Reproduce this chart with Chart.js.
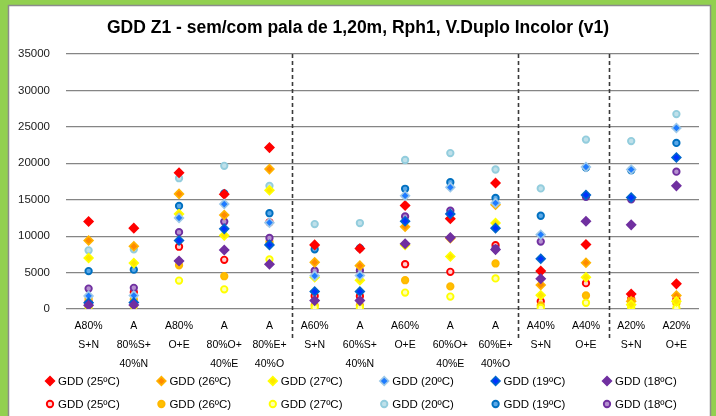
<!DOCTYPE html>
<html>
<head>
<meta charset="utf-8">
<script src="https://cdn.jsdelivr.net/npm/chart.js@4/dist/chart.umd.min.js"></script>
<style>
html,body{margin:0;padding:0;background:#ffffff;}
#wrap{width:716px;height:416px;}
canvas{display:block;}
</style>
</head>
<body>
<div id="wrap"><canvas id="c" width="716" height="416"></canvas></div>
<script>
// ---------- DATA ----------
const chartTitle = 'GDD Z1 - sem/com pala de 1,20m, Rph1, V.Duplo Incolor (v1)';

const categories = [
  ['A80%', 'S+N'],
  ['A', '80%S+', '40%N'],
  ['A80%', 'O+E'],
  ['A', '80%O+', '40%E'],
  ['A', '80%E+', '40%O'],
  ['A60%', 'S+N'],
  ['A', '60%S+', '40%N'],
  ['A60%', 'O+E'],
  ['A', '60%O+', '40%E'],
  ['A', '60%E+', '40%O'],
  ['A40%', 'S+N'],
  ['A40%', 'O+E'],
  ['A20%', 'S+N'],
  ['A20%', 'O+E']
];

const seriesNames = ['GDD (25ºC)', 'GDD (26ºC)', 'GDD (27ºC)', 'GDD (20ºC)', 'GDD (19ºC)', 'GDD (18ºC)'];

// diamond markers
const diamond25 = [12000, 11100, 18700, 15750, 22150, 8800, 8300, 14200, 12400, 17300, 5200, 8850, 2050, 3450];
const diamond26 = [9400, 8600, 15800, 12900, 19200, 6400, 5950, 11300, 9700, 14300, 3300, 6350, 1050, 1850];
const diamond27 = [7000, 6300, 13050, 10100, 16300, 4350, 3950, 8800, 7200, 11800, 1900, 4350, 600, 1050];
const diamond20 = [1800, 1850, 12500, 14400, 11850, 4550, 4600, 15550, 16700, 14550, 10200, 19500, 19150, 24850];
const diamond19 = [850, 900, 9400, 11000, 8800, 2400, 2400, 12050, 13050, 11100, 6900, 15650, 15300, 20800];
const diamond18 = [500, 550, 6600, 8100, 6150, 1150, 1150, 8950, 9800, 8150, 4150, 12050, 11550, 16900];

// circle markers
const circle25 = [1000, 2300, 8550, 6750, 11900, 1800, 1750, 6150, 5100, 8750, 1050, 3550, 1400, 1350];
const circle26 = [1400, 1300, 6000, 4500, 9200, 500, 500, 3950, 3100, 6250, 500, 1850, 1250, 750];
const circle27 = [300, 400, 3900, 2700, 6800, 250, 200, 2250, 1700, 4200, 150, 850, 250, 150];
const circle20 = [8050, 8200, 17950, 19650, 16900, 11650, 11800, 20450, 21400, 19150, 16550, 23250, 23050, 26750];
const circle19 = [5200, 5400, 14150, 15850, 13150, 8200, 8350, 16500, 17400, 15250, 12800, 19400, 19050, 22800];
const circle18 = [2800, 2900, 10550, 12000, 9750, 5250, 5300, 12700, 13500, 8300, 9250, 15400, 15050, 18850];

// category boundaries (index of first category of a new group)
const groupStarts = [5, 10, 12];

const yMin = 0, yMax = 35000, yStep = 5000;

// ---------- STYLES ----------
const FONT = '"Liberation Sans", Arial, sans-serif';
Chart.defaults.font.family = FONT;

const diamondStyles = [
  {bg: '#FF0000', bd: '#FF0000'},
  {bg: '#FF8A00', bd: '#FFB300'},
  {bg: '#FFE600', bd: '#FFFF00'},
  {bg: '#1E7BFF', bd: '#9DC8E8'},
  {bg: '#0033FF', bd: '#0066CC'},
  {bg: '#7030A0', bd: '#7030A0'}
];
const circleStyles = [
  {bg: '#FFD0D0', bd: '#FF0000'},
  {bg: '#FFC000', bd: '#FFB800'},
  {bg: '#FFFFB0', bd: '#FFFF00'},
  {bg: '#BFE0EA', bd: '#93CDDD'},
  {bg: '#5AA8E8', bd: '#0070C0'},
  {bg: '#B590D0', bd: '#7030A0'}
];

const diamondData = [diamond25, diamond26, diamond27, diamond20, diamond19, diamond18];
const circleData = [circle25, circle26, circle27, circle20, circle19, circle18];

function makeSet(name, values, st, style, radius, bw, order) {
  return {
    label: name,
    data: values,
    showLine: false,
    pointStyle: style,
    pointRadius: radius,
    pointHoverRadius: radius,
    pointBorderWidth: bw,
    pointBackgroundColor: st.bg,
    pointBorderColor: st.bd,
    backgroundColor: st.bg,
    borderColor: st.bd,
    order: order
  };
}

const datasets = [];
diamondData.forEach((vals, i) => datasets.push(makeSet(seriesNames[i], vals, diamondStyles[i], 'rectRot', 4.4, 1.6, 5 - i)));
circleData.forEach((vals, i) => datasets.push(makeSet(seriesNames[i], vals, circleStyles[i], 'circle', 3.2, 1.9, 11 - i)));

// ---------- PLUGINS ----------
const framePlugin = {
  id: 'frame',
  beforeDraw(chart) {
    const ctx = chart.ctx;
    ctx.save();
    ctx.fillStyle = '#92D050';
    ctx.fillRect(0, 0, chart.width, chart.height);
    ctx.fillStyle = '#FFFFFF';
    ctx.fillRect(8, 5, 703, chart.height - 5);
    ctx.strokeStyle = '#8C8C8C';
    ctx.lineWidth = 1.5;
    ctx.strokeRect(8.5, 5.5, 702, chart.height + 5);
    ctx.restore();
  }
};

const separatorPlugin = {
  id: 'separators',
  beforeDatasetsDraw(chart) {
    const ctx = chart.ctx;
    const xs = chart.scales.x;
    const area = chart.chartArea;
    ctx.save();
    ctx.strokeStyle = '#3A3A3A';
    ctx.lineWidth = 1.6;
    ctx.setLineDash([4, 3]);
    groupStarts.forEach(i => {
      const px = Math.round((xs.getPixelForValue(i - 1) + xs.getPixelForValue(i)) / 2) + 0.5;
      ctx.beginPath();
      ctx.moveTo(px, area.top);
      ctx.lineTo(px, area.bottom + 32);
      ctx.stroke();
    });
    ctx.restore();
  }
};

function drawMarker(ctx, ds, x, y) {
  ctx.save();
  ctx.fillStyle = ds.pointBackgroundColor;
  ctx.strokeStyle = ds.pointBorderColor;
  ctx.lineWidth = ds.pointBorderWidth;
  Chart.helpers.drawPoint(ctx, {pointStyle: ds.pointStyle, radius: ds.pointRadius, borderWidth: ds.pointBorderWidth, rotation: 0}, x, y);
  ctx.restore();
}

const legendPlugin = {
  id: 'gridLegend',
  afterDraw(chart) {
    const ctx = chart.ctx;
    const sets = chart.data.datasets;
    ctx.save();
    ctx.font = '11.5px ' + FONT;
    ctx.textAlign = 'left';
    ctx.textBaseline = 'middle';
    sets.forEach((ds, k) => {
      const row = Math.floor(k / 6), col = k % 6;
      const x = 50 + col * 111.4;
      const y = 381 + row * 23;
      drawMarker(ctx, ds, x, y);
      ctx.fillStyle = '#000000';
      ctx.fillText(ds.label, x + 8, y + 0.5);
    });
    ctx.restore();
  }
};

// ---------- CHART ----------
new Chart(document.getElementById('c'), {
  type: 'line',
  data: { labels: categories, datasets: datasets },
  options: {
    responsive: false,
    animation: false,
    devicePixelRatio: 1,
    layout: { padding: { top: 6, right: 17, bottom: 35, left: 17 } },
    plugins: {
      legend: { display: false },
      tooltip: { enabled: false },
      title: {
        display: true,
        text: chartTitle,
        color: '#000000',
        font: { size: 17.5, weight: 'bold', family: FONT, lineHeight: 1.2 },
        padding: { top: 12, bottom: 15 }
      }
    },
    scales: {
      x: {
        type: 'category',
        offset: true,
        grid: { display: false, drawTicks: false },
        border: { display: false },
        ticks: {
          autoSkip: false,
          maxRotation: 0,
          minRotation: 0,
          padding: 7.5,
          color: '#000000',
          font: { size: 10.5, family: FONT, lineHeight: '19px' }
        },
        afterFit(scale) { scale.height = 72; }
      },
      y: {
        min: yMin,
        max: yMax,
        grid: { color: '#858585', lineWidth: 1.2, drawTicks: false },
        border: { display: false },
        ticks: {
          stepSize: yStep,
          padding: 16,
          color: '#1A1A1A',
          font: { size: 11.5, family: FONT },
          callback: v => String(v)
        },
        afterFit(scale) { scale.width = 49; }
      }
    }
  },
  plugins: [framePlugin, separatorPlugin, legendPlugin]
});
</script>
</body>
</html>
